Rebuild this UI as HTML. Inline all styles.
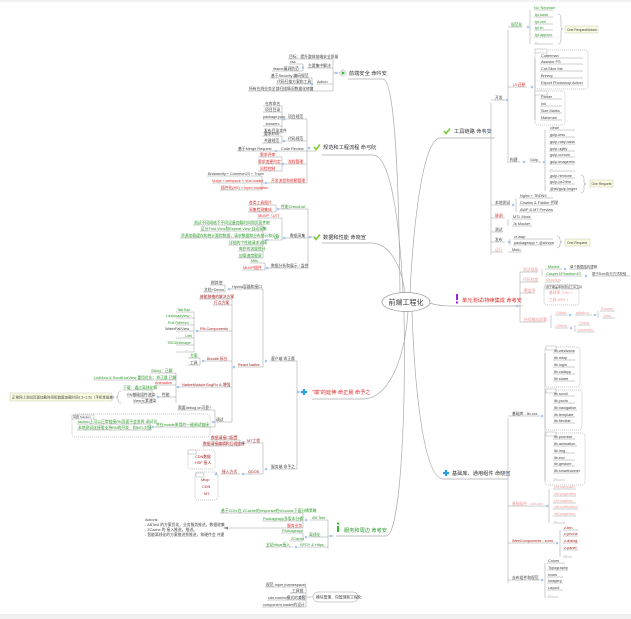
<!DOCTYPE html>
<html><head><meta charset="utf-8"><style>
html,body{margin:0;padding:0;background:#fff;width:631px;height:619px;overflow:hidden}
svg{display:block}
text{font-family:"Liberation Sans","Noto Sans CJK SC",sans-serif;font-size:3.8px;fill:#444}
.g{fill:#2a9a2a}.r{fill:#e02828}.dr{fill:#a82020}.lr{fill:#f29a9a}
.m{font-size:5.2px;fill:#333}
.m.r{fill:#e02828}.m.g{fill:#2a9a2a}
.ln{fill:none;stroke:#9a9a9a;stroke-width:.5}
.cv{fill:none;stroke:#aaa;stroke-width:.7}
.ds{fill:none;stroke:#999;stroke-width:.5;stroke-dasharray:1.2 .8}
.dt{fill:#a8c8f0}
</style></head><body>
<svg width="631" height="619" viewBox="0 0 631 619" xmlns="http://www.w3.org/2000/svg">
<rect x="0" y="0" width="631" height="2" fill="#f2f2f2"/>
<rect x="0" y="614" width="631" height="5" fill="#f0f0f0"/>

<path class="cv" d="M348 79 H383 C396 80 399 200 400 293"/>
<path class="cv" d="M322 155 H373 C392 156 400 230 403 293"/>
<path class="cv" d="M322 243 H372 C392 244 402 270 405 293"/>
<path class="cv" d="M312 399 H362 C392 399 406 350 408 311"/>
<path class="cv" d="M336 536 H386 C400 536 406 420 404 311"/>
<path class="cv" d="M440 138 H495 M440 138 C420 140 412 250 410 293"/>
<path class="cv" d="M430 303 C440 307 450 306 520 306"/>
<path class="cv" d="M443 479 H508 M443 479 C425 478 415 400 412 311"/>
<ellipse cx="406" cy="302" rx="24" ry="9.5" fill="#fff" stroke="#999" stroke-width=".7"/>
<text x="406" y="304.5" text-anchor="middle" style="font-size:7px;fill:#333">前端工程化</text>

<circle cx="343" cy="73" r="3.2" fill="#eee" stroke="#aaa" stroke-width=".4"/><path d="M341.8 71.3 L345 73 L341.8 74.7Z" fill="#3a3"/>
<text class="m" x="349" y="75">前端安全 命吟安</text>
<path d="M314 147 l2 2.5 l4 -5" stroke="#7c3" stroke-width="1.6" fill="none"/>
<text class="m" x="323" y="149">规范和工程流程 命弓阮</text>
<path d="M314 237 l2 2.5 l4 -5" stroke="#7c3" stroke-width="1.6" fill="none"/>
<text class="m" x="323" y="239">数据和性能 命晓宣</text>
<path d="M304 389v6M301 392h6" stroke="#2aa0e0" stroke-width="2.2"/>
<text class="m r" x="312" y="394">"端"的延伸 命正晨 命予之</text>
<rect x="337" y="526" width="2" height="6" fill="#3b3"/><rect x="337" y="522.5" width="2" height="2" fill="#3b3"/>
<text class="m g" x="344" y="532">服务和周边 命考安</text>
<path d="M444 131 l2 2.5 l4 -5" stroke="#7c3" stroke-width="1.6" fill="none"/>
<text class="m" x="454" y="133">工具链路 命韦安</text>
<rect x="456" y="294" width="2" height="6" fill="#a020e0"/><rect x="456" y="301.5" width="2" height="2" fill="#a020e0"/>
<text class="m r" x="462" y="302">单元测试/持续集成 命考安</text>
<path d="M446 470v6M443 473h6" stroke="#2aa0e0" stroke-width="2.2"/>
<text class="m" x="452" y="475">基础库、通用组件 命晓宣</text>

<path class="ln" d="M288 59H333M289 64H303M272 71H303M307 68H333M270 78H312M276 84H312M248 91H333M317 84H333M303 64V71M312 78V91M333 59V91M333 73H340"/>
<circle class="dt" cx="303" cy="67.5" r="1.3"/><circle class="dt" cx="312" cy="84" r="1.3"/><circle class="dt" cx="336" cy="73" r="1.3"/>
<text x="289" y="58">目标：提升整体前端安全质量</text>
<text x="290" y="63">xss</text>
<text x="273" y="70">iframe漏洞防范</text>
<text x="308" y="67">主要集中解决</text>
<text x="271" y="77">基于Security 编码规范</text>
<text x="277" y="83">代码扫描方案和工具</text>
<text x="249" y="90">所有在线业务全部扫描情况数据化修复</text>
<text x="317" y="83">Action</text>

<path class="ln" d="M263 106H282M263 112H282M263 119H282M263 126H282M263 133H282M282 106V133M282 119H307M262 136H282M262 143H282M282 136V143M282 141H307M237 151H307M258 157H282M258 164H282M258 171H282M282 157V171M282 164H307M207 176H262M212 183H307M220 190H262M262 176V190M307 119V183M307 151H316"/>
<circle class="dt" cx="284" cy="119" r="1.3"/><circle class="dt" cx="284" cy="141" r="1.3"/><circle class="dt" cx="276" cy="151" r="1.3"/><circle class="dt" cx="283" cy="164" r="1.3"/><circle class="dt" cx="266" cy="183" r="1.3"/><circle class="dt" cx="309" cy="148" r="1.3"/>
<text x="265" y="105">仓库命名</text><text x="265" y="111">项目目录</text><text x="263" y="118">package.json</text><text x="265" y="125">.bowerrc</text><text x="264" y="132">发布目录文件</text>
<text x="288" y="118">项目规范</text>
<text x="264" y="135">要求ES6</text><text x="264" y="142">共建规范</text><text x="288" y="140">代码规范</text>
<text x="238" y="150">基于Merge Request</text><text x="281" y="150">Code Review</text>
<text class="r" x="260" y="156">需求评审</text><text class="r" x="258" y="163">需求变更约定</text><text class="r" x="260" y="170">风险控制</text><text class="r" x="288" y="163">流程管理</text>
<text x="208" y="175">Browserify + CommonJS + Tnpm</text>
<text class="r" x="212" y="182">Vuejs + webpack + Vue-loader</text>
<text class="r" x="221" y="189">插件化(H5) &gt; tnpm modules</text>
<text class="r" x="271" y="182">开发流程和依赖管理</text>

<path class="ln" d="M248 205H276M248 212H276M276 205V212M277 209H308M257 218H282M193 225H263M200 231H263M180 238H263M228 245H263M238 251H263M238 258H263M263 225V258M264 240H282M282 218V240M283 238H308M250 263H265M242 270H265M265 263V270M266 268H308M308 209V268M308 237H316"/>
<circle class="dt" cx="278" cy="209" r="1.3"/><circle class="dt" cx="267" cy="240" r="1.3"/><circle class="dt" cx="284" cy="238" r="1.3"/><circle class="dt" cx="267" cy="268" r="1.3"/><circle class="dt" cx="310" cy="237" r="1.3"/>
<text class="r" x="249" y="204">各类工具图片</text><text class="r" x="249" y="211">采集检测集成</text><text class="g" x="281" y="208">性能CheckList</text>
<text class="r" x="258" y="217">MUVP（UT）</text>
<text class="g" x="194" y="224">测试不同网络下不同设备加载时间和页面性能</text>
<text class="g" x="201" y="230">区分First View和Repeat View 自动采集</text>
<text class="g" x="181" y="237">资源加载缓存和统计跟踪数据，请求数据和分布统计和分析</text>
<text class="g" x="229" y="244">详细的个性能请求详情</text>
<text class="g" x="239" y="250">每秒的流量统计</text>
<text class="g" x="239" y="257">加载速度截屏</text>
<text class="g" x="274" y="239">MF</text><text x="290" y="237">数据采集</text>
<text class="g" x="251" y="262">Mtfu</text><text class="r" x="243" y="269">MUVP插件</text>
<text x="271" y="267">数据分析和展示 / 监控</text>

<path class="ln" d="M210 285H225M203 292H225M225 285V292M228 289H263M199 299H232M213 305H232M176 312H194M176 318H194M176 325H194M176 331H194M176 338H194M176 345H194M176 352H194M194 312V352M197 331H232M188 358H200M188 365H200M200 358V365M203 361H232M150 373H176M93 380H176M155 385H176M123 390H152M127 397H152M133 403H152M152 390V403M158 397H176M176 373V403M178 387H232M177 410H215M155 427H215M215 410V427M213 422H232M232 299V422M238 367H263M263 289V367M270 361H297M210 440H240M202 446H240M240 440V446M243 443H263M220 474H240M243 474H263M263 443V474M270 469H297M297 361V469M297 392H302"/>
<path class="ln" d="M77 424H150M77 430H152M150 424V430"/>
<circle class="dt" cx="229" cy="289" r="1.3"/><circle class="dt" cx="197" cy="331" r="1.3"/><circle class="dt" cx="203" cy="361" r="1.3"/><circle class="dt" cx="158" cy="397" r="1.3"/><circle class="dt" cx="178" cy="387" r="1.3"/><circle class="dt" cx="213" cy="422" r="1.3"/><circle class="dt" cx="153" cy="427" r="1.3"/><circle class="dt" cx="234" cy="367" r="1.3"/><circle class="dt" cx="266" cy="361" r="1.3"/><circle class="dt" cx="243" cy="443" r="1.3"/><circle class="dt" cx="243" cy="474" r="1.3"/><circle class="dt" cx="216" cy="474" r="1.3"/><circle class="dt" cx="266" cy="469" r="1.3"/><circle class="dt" cx="298" cy="392" r="1.3"/>
<text x="211" y="284">刷其他</text><text x="204" y="291">文档+Demo</text><text x="232" y="288">Hybrid容器和接口</text>
<text class="dr" x="200" y="298">被能移植的解决方案</text><text class="dr" x="214" y="304">打点方案</text>
<text class="g" x="177" y="311">Tab Bar</text><text class="g" x="166" y="317">LazyloadView</text><text class="g" x="168" y="324">Pull Refresh</text><text x="165" y="330">WaterFallView</text><text class="g" x="185" y="337">Link</text><text class="g" x="167" y="344">TBCDNImage</text><text x="185" y="351">...</text>
<text class="dr" x="200" y="330">RN Components</text>
<text class="g" x="190" y="357">方案</text><text x="190" y="364">工具</text><text class="dr" x="207" y="360">Bundle 拆分</text>
<text class="g" x="151" y="372">Sticky：已解</text>
<text class="g" x="94" y="379">ListView &amp; ScrollListView 重用优化：命正晨 已解</text>
<text class="r" x="155" y="384">Animation</text>
<text class="g" x="123" y="389">下载：通过离线化解</text><text x="127" y="396">RN基础组件渲染</text><text x="133" y="402">View元素渲染</text><text x="162" y="396">性能</text>
<path class="ln" d="M121 391 q-3 0 -3 4 q0 2 -2 2 q2 0 2 2 q0 4 3 4"/>
<rect x="10" y="393" width="102" height="8" fill="#fafae0" stroke="#bba" stroke-width=".4"/>
<text x="12" y="398.5" style="font-size:3.5px">正常网上测试页面加载时间和首屏加载时间1.5~2.5s（手机性能差）</text>
<text class="dr" x="182" y="386">NativeModule BugFix &amp; 增强</text>
<text x="178" y="409">需要debug on可靠?</text>
<rect x="72" y="414" width="138" height="23" rx="3" class="ds"/>
<rect x="72" y="415" width="22" height="4" fill="#fff" stroke="#999" stroke-width=".4"/><text x="73" y="418" style="font-size:3px">问题 Solution</text>
<text class="g" x="78" y="423">taobao上可以正常链接RN页面不会发挥·调试员</text>
<text class="g" x="78" y="429">本地测试连接需支持RN的开发、和MTL对接</text>
<text class="g" x="156" y="426">并在mobile来用的一键调试链接</text>
<text x="216" y="421">调试</text>
<text class="dr" x="238" y="366">React Native</text>
<text x="271" y="360">客户端 命正晨</text>
<text class="dr" x="211" y="439">数据请接口配置</text><text class="dr" x="203" y="445">数据请接编辑和后缀链接</text><text class="dr" x="247" y="442">MT工程</text>
<rect x="188" y="450" width="27" height="19" rx="3" class="ds"/>
<rect x="188" y="450" width="8" height="4" fill="#fff" stroke="#999" stroke-width=".4"/>
<text class="dr" x="195" y="458">CDN数据</text><text class="dr" x="195" y="464">HSF 接入</text>
<rect x="195" y="472" width="23" height="28" rx="3" class="ds"/>
<rect x="196" y="473" width="8" height="4" fill="#fff" stroke="#999" stroke-width=".4"/>
<text class="dr" x="201" y="481">Mtop</text><text class="dr" x="202" y="488">CDN</text><text class="dr" x="204" y="495">MT</text>
<text class="dr" x="222" y="473">接入方式</text><text class="dr" x="248" y="473">QDOS</text>
<text x="271" y="468">服务端 命予之</text>

<path class="ln" d="M220 513H303M262 521H303M285 528H303M303 513V528M310 520H328M281 533H303M290 541H303M303 533V541M308 537H328M265 547H293M298 547H328M328 520V549M328 536H334"/>
<path class="ln" d="M228 528H285"/><path d="M223 528l5-1.5v3z" fill="#888"/>
<circle class="dt" cx="306" cy="520" r="1.3"/><circle class="dt" cx="306" cy="537" r="1.3"/><circle class="dt" cx="296" cy="547" r="1.3"/><circle class="dt" cx="331" cy="536" r="1.3"/>
<text class="g" x="221" y="512">基于CDN 在 ZCache的response的Wcookie下面分桶策略</text>
<text class="g" x="263" y="520">Packageapp多版本分桶</text><text class="r" x="287" y="527">服务业务</text>
<text class="g" x="312" y="519">AB Test</text>
<text x="145" y="521">Actions:</text>
<text x="145" y="526">- ABTest 的方案优化，业务服务推进，数据收集</text>
<text x="145" y="531">- ZCache 的 接入推进，推进。</text>
<text x="145" y="536">- 智能离线化的方案推进到推进，和硬件会 共建</text>
<text class="g" x="282" y="532">Packageapp</text><text class="g" x="291" y="540">ZCache</text><text class="g" x="309" y="536">离线化</text>
<text class="g" x="266" y="546">全站Https接入</text><text class="g" x="300" y="546">SPDY &amp; Https</text>

<path class="ln" d="M265 587H306M290 593H306M267 600H306M262 607H306M306 587V607M306 597H313"/>
<circle class="dt" cx="303" cy="597" r="1.3"/>
<text x="266" y="586">规范 tnpm (namespace)</text><text x="292" y="592">工具链</text><text x="268" y="599">cdn combo模式的兼容</text><text x="263" y="606">component loader的设计</text>
<rect x="313" y="592" width="45" height="10" rx="5" fill="#fff" stroke="#999" stroke-width=".5"/>
<text x="316" y="598.5">模块管理、包管理和工程化</text>

<path class="ln" d="M491 103V255M491 100H505M508 30V163M508 27H522M534 10H553M534 17H553M534 24H553M534 30H553M534 37H553M534 44H553M530 10V44M508 87H527M535 58V120M540 58H583M540 64H583M540 71H583M540 78H583M540 85H583M540 99H562M540 106H562M540 113H562M540 120H562M508 162H520M530 162H541M545 130V191M549 130H575M549 137H575M549 144H575M549 151H575M549 157H575M549 164H575M549 171H575M549 178H575M549 184H575M549 191H575M491 205H510M516 198V212M519 198H553M519 205H553M519 212H553M491 218H505M508 219V226M512 219H532M512 226H532M491 232H503M491 242H505M510 239V245M513 239H553M513 245H553M491 252H503M508 252H522"/>
<circle class="dt" cx="488" cy="131" r="1.3"/><circle class="dt" cx="507" cy="100" r="1.3"/><circle class="dt" cx="528" cy="27" r="1.3"/><circle class="dt" cx="532" cy="87" r="1.3"/><circle class="dt" cx="524" cy="162" r="1.3"/><circle class="dt" cx="544" cy="162" r="1.3"/><circle class="dt" cx="513" cy="205" r="1.3"/><circle class="dt" cx="509" cy="242" r="1.3"/>
<text x="495" y="99">开发</text>
<text class="g" x="511" y="26">规范化</text>
<text class="g" x="534" y="9">No 'Neoman'</text><text class="g" x="535" y="16">tpl.base</text><text class="g" x="535" y="23">tpl.cml</text><text class="g" x="535" y="29">tpl.rb</text><text class="g" x="535" y="36">tpl.appxxx</text><text x="535" y="43">...</text>
<path class="ln" d="M558 14q3 0 3 5v8q0 2 2 2q-2 0 -2 2v8q0 5 -3 5"/>
<rect x="565" y="26" width="33" height="7" fill="#fafae0" stroke="#bba" stroke-width=".4"/><text x="567" y="31" style="font-size:3.4px">One Request/Adam</text>
<text class="r" x="513" y="86">UI 还原</text>
<rect x="535" y="50" width="53" height="39" rx="3" class="ds"/><rect x="535" y="49" width="12" height="4" fill="#fff" stroke="#999" stroke-width=".4"/>
<text x="541" y="57">Cutterman</text><text x="541" y="63">Assistor PS</text><text x="541" y="70">Cut-Slice Me</text><text x="541" y="77">Breezy</text><text x="541" y="84">Export Photoshop Action</text>
<rect x="535" y="91" width="30" height="34" rx="3" class="ds"/><rect x="535" y="91" width="12" height="4" fill="#fff" stroke="#999" stroke-width=".4"/>
<text x="541" y="98">Parker</text><text x="541" y="105">Ink</text><text x="541" y="112">Size Marks</text><text x="541" y="119">Markman</text>
<text x="510" y="161">构建</text><text x="530" y="161">Gulp</text>
<text x="550" y="129">clean</text><text x="550" y="136">gulp-less</text><text x="550" y="143">gulp-ruby-sass</text><text x="550" y="150">gulp-uglify</text><text x="550" y="156">gulp-concat</text><text x="550" y="163">gulp-imagemin</text><text x="550" y="170">...</text><text x="550" y="177">gulp-htmlone</text><text x="550" y="183">gulp-px2rem</text><text x="550" y="190">@ali/gulp-imgex</text>
<path class="ln" d="M581 175q3 0 3 4v3q0 2 2 2q-2 0 -2 2v3q0 4 -3 4"/>
<rect x="590" y="180" width="23" height="7" fill="#fafae0" stroke="#bba" stroke-width=".4"/><text x="591.5" y="185" style="font-size:3.4px">One Request</text>
<text x="495" y="204">本地测试</text>
<text x="520" y="197">Nginx + TBDNS</text><text x="520" y="204">Charles &amp; Fiddler 代理</text><text x="520" y="211">AWP &amp; MT Preview</text>
<text class="r" x="495" y="217">联调</text><text x="513" y="218">MTL Mock</text><text x="513" y="225">Js Mocker</text>
<text x="495" y="231">测试</text>
<text x="495" y="241">发布</text><text x="514" y="238">cr-awp</text><text x="514" y="244">packageapp + @ali/zpa</text>
<path class="ln" d="M557 236q3 0 3 4q0 2 2 2q-2 0 -2 2q0 4 -3 4"/>
<rect x="565" y="239" width="25" height="7" fill="#fafae0" stroke="#bba" stroke-width=".4"/><text x="567" y="244" style="font-size:3.4px">One Request</text>
<text class="lr" x="495" y="251">运行</text><text x="512" y="251">Mofu</text>

<path class="ln" d="M520 272V322M520 306H523M520 272H538M542 269V276M545 269H562M545 276H582M569 269H593M592 276H630M520 282H538M545 282H560M520 293H535M520 322H545M551 315V328M555 315H568M575 315H592M598 311V318M600 311H615M602 318H615M555 328H568M575 325V332M578 325H590M577 332H595"/>
<circle class="dt" cx="517" cy="306" r="1.3"/><circle class="dt" cx="565" cy="269" r="1.3"/><circle class="dt" cx="586" cy="276" r="1.3"/><circle class="dt" cx="570" cy="315" r="1.3"/><circle class="dt" cx="595" cy="315" r="1.3"/><circle class="dt" cx="571" cy="328" r="1.3"/>
<text class="lr" x="523" y="271">测试框架</text><text class="g" x="548" y="268">Mocha</text><text x="570" y="268" style="font-size:3.4px">单个数据结构逻辑</text>
<text class="g" x="546" y="275">CasperJ/PhantomJS</text><text x="592" y="275" style="font-size:3.4px">基于Dom执行方式校验</text>
<text class="lr" x="523" y="281">代码检查</text><text class="lr" x="546" y="281">should.js</text>
<text class="lr" x="524" y="292">覆盖率</text>
<rect x="544" y="285" width="35" height="20" rx="3" class="ds"/><rect x="545" y="285" width="33" height="4" fill="#fff" stroke="#999" stroke-width=".4"/>
<text x="546" y="288" style="font-size:3px">用于覆盖率的测试工具工具</text>
<text class="lr" x="549" y="294">基线率 70% +</text><text class="lr" x="549" y="301">工具 80% +</text>
<text class="lr" x="524" y="321">持续集成部署</text>
<text class="lr" x="556" y="314">Gitlab</text><text class="lr" x="576" y="314">gitlab-ci</text><text class="lr" x="601" y="310">Runner</text><text class="lr" x="603" y="317">Jobs</text>
<text class="lr" x="556" y="327">Github</text><text class="lr" x="579" y="324">Travis</text><text class="lr" x="578" y="331">coveralls</text>

<path class="ln" d="M508 418V583M508 416H540M545 353V481M553 353H575M553 360H575M553 367H575M553 374H575M553 381H575M553 396H575M553 403H575M553 410H577M553 417H575M553 423H575M553 439H575M553 446H577M553 453H575M553 460H575M553 466H575M553 473H579M553 480H565M508 506H545M549 489V523M553 489H576M553 496H576M553 503H576M553 509H578M553 516H576M553 523H565M508 543H555M560 530V557M563 530H578M563 536H578M563 543H578M563 550H578M563 557H572M508 580H540M545 563V598M547 563H565M547 570H568M547 577H563M547 583H563M547 590H563M547 597H558"/>
<circle class="dt" cx="506" cy="473" r="1.3"/><circle class="dt" cx="542" cy="416" r="1.3"/><circle class="dt" cx="547" cy="506" r="1.3"/><circle class="dt" cx="557" cy="543" r="1.3"/><circle class="dt" cx="542" cy="580" r="1.3"/>
<text x="512" y="415">基础库 - lib-xxx</text>
<rect x="545" y="347" width="35" height="40" rx="3" class="ds"/><rect x="546" y="346" width="10" height="4" fill="#fff" stroke="#999" stroke-width=".4"/>
<text x="554" y="352">lib.windvane</text><text x="554" y="359">lib.mtop</text><text x="554" y="366">lib.login</text><text x="554" y="373">lib.callapp</text><text x="554" y="380">lib.share</text>
<rect x="545" y="390" width="37" height="40" rx="3" class="ds"/><rect x="546" y="389" width="10" height="4" fill="#fff" stroke="#999" stroke-width=".4"/>
<text x="554" y="395">lib.scroll</text><text x="554" y="402">lib.yocto</text><text x="554" y="409">lib.navigation</text><text x="554" y="416">lib.template</text><text x="554" y="422">lib.flexible</text>
<rect x="545" y="433" width="40" height="52" rx="3" class="ds"/><rect x="546" y="432" width="10" height="4" fill="#fff" stroke="#999" stroke-width=".4"/>
<text x="554" y="438">lib.promise</text><text x="554" y="445">lib.animation</text><text x="554" y="452">lib.img</text><text x="554" y="459">lib.env</text><text x="554" y="465">lib.gesture</text><text x="554" y="472">lib.smartbanner</text><text x="554" y="479">...</text>
<text class="lr" x="512" y="505">基础组件 - ctrl-xxx</text>
<text class="lr" x="554" y="488">ctrl.carousel</text><text class="lr" x="554" y="495">ctrl.pageview</text><text class="lr" x="554" y="502">ctrl.loading</text><text class="lr" x="554" y="508">ctrl.notification</text><text class="lr" x="554" y="515">ctrl.pagerton</text><text x="554" y="522">...</text>
<text class="dr" x="512" y="542">WebComponents - zorro</text>
<text class="dr" x="564" y="529">z-btn</text><text class="dr" x="564" y="535">z-phone</text><text class="dr" x="564" y="542">z-dialog</text><text class="dr" x="564" y="549">z-panel</text><text x="564" y="556">...</text>
<text x="512" y="579">去布组件和规范</text>
<text x="548" y="562">Colors</text><text x="548" y="569">Typography</text><text x="548" y="576">Icons</text><text x="548" y="582">Imagery</text><text x="548" y="589">Layout</text><text x="548" y="596">...</text>
</svg>
</body></html>
